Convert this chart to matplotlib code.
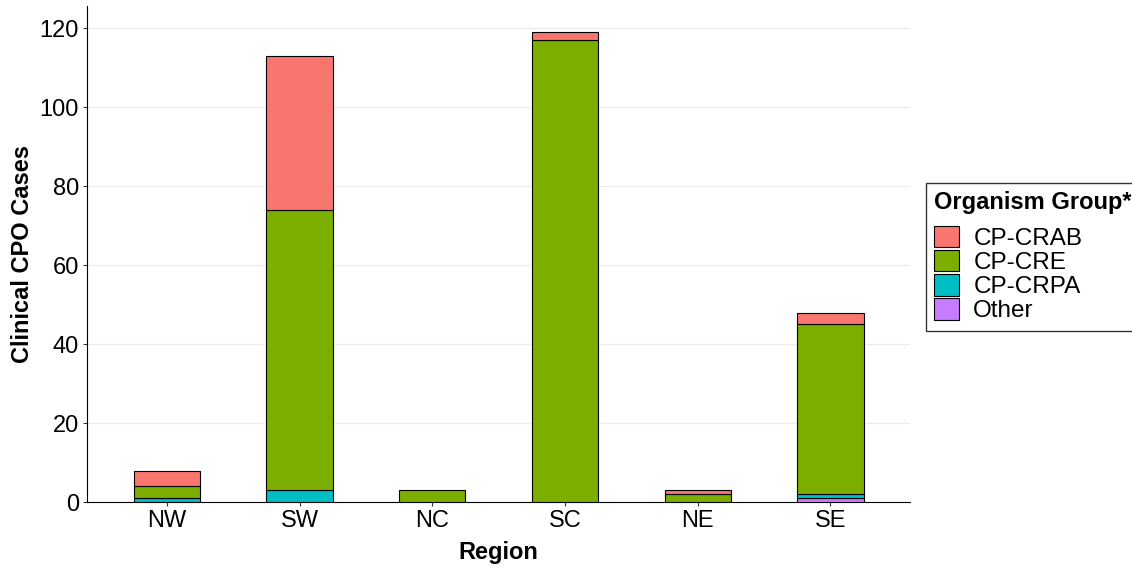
import matplotlib.pyplot as plt
import numpy as np
from matplotlib.patches import Patch

plt.rcParams['font.family'] = ['Liberation Sans', 'DejaVu Sans']

regions = ['NW', 'SW', 'NC', 'SC', 'NE', 'SE']
groups = ['Other', 'CP-CRPA', 'CP-CRE', 'CP-CRAB']
other = [0, 0, 0, 0, 0, 1]
crpa = [1, 3, 0, 0, 0, 1]
cre = [3, 71, 3, 117, 2, 43]
crab = [4, 39, 0, 2, 1, 3]
colors = {'CP-CRAB': '#F8766D', 'CP-CRE': '#7CAE00', 'CP-CRPA': '#00BFC4', 'Other': '#C77CFF'}

fig = plt.figure(figsize=(11.32, 5.68), dpi=100)
ax = fig.add_axes([0.077, 0.116, 0.727, 0.873])

x = np.arange(len(regions))
bottom = np.zeros(len(regions))
for name, vals in zip(groups, [other, crpa, cre, crab]):
    vals = np.array(vals, dtype=float)
    mask = vals > 0
    ax.bar(x[mask], vals[mask], 0.5, bottom=bottom[mask], color=colors[name],
           edgecolor='black', linewidth=0.8, zorder=3)
    bottom += vals

ax.set_xlim(-0.6, 5.6)
ax.set_ylim(0, 125.6)
ax.set_yticks([0, 20, 40, 60, 80, 100, 120])
ax.set_xticks(x)
ax.set_xticklabels(regions)
ax.tick_params(labelsize=17, colors='black', length=3, width=0.8, pad=3)
ax.tick_params(color='#333333')
ax.yaxis.grid(True, color='#EBEBEB', linewidth=0.8, zorder=0)
for s in ['top', 'right']:
    ax.spines[s].set_visible(False)
ax.set_xlabel('Region', fontsize=17, fontweight='bold', labelpad=6)
ax.set_ylabel('Clinical CPO Cases', fontsize=17, fontweight='bold', labelpad=4)

handles = [Patch(facecolor=colors[g], edgecolor='black', linewidth=0.8)
           for g in ['CP-CRAB', 'CP-CRE', 'CP-CRPA', 'Other']]
leg = fig.legend(handles, ['CP-CRAB', 'CP-CRE', 'CP-CRPA', 'Other'],
                 title='Organism Group*', loc='upper left', bbox_to_anchor=(0.818, 0.678),
                 borderaxespad=0,
                 fontsize=17.5, title_fontproperties={'weight': 'bold', 'size': 17},
                 frameon=True, fancybox=False, edgecolor='black',
                 handlelength=1.0, handleheight=1.0, handletextpad=0.6,
                 labelspacing=0.0, borderpad=0.35)
leg._legend_box.align = 'left'
leg._legend_box.sep = 8

plt.savefig('out.png', dpi=100)
